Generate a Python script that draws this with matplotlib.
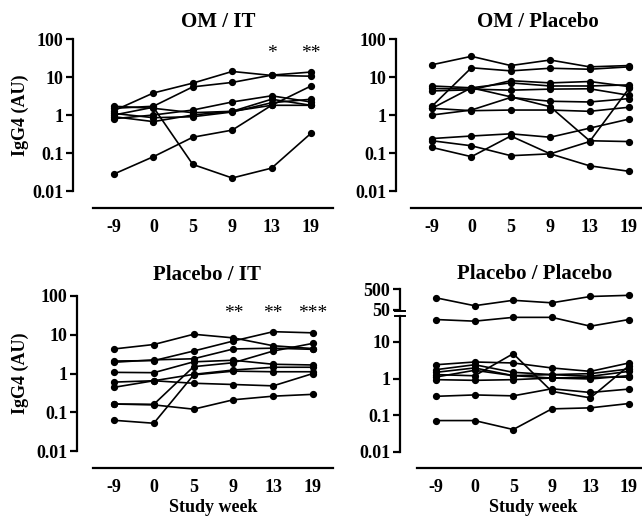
"""IgG4 over study weeks, four treatment groups (OM/IT, OM/Placebo, Placebo/IT, Placebo/Placebo)."""

import math

import matplotlib

matplotlib.use("Agg")
import matplotlib.pyplot as plt  # noqa: E402
from matplotlib.lines import Line2D  # noqa: E402
from matplotlib.ticker import NullLocator  # noqa: E402

weeks = ["-9", "0", "5", "9", "13", "19"]

# one row per subject, values in AU at each study week
om_it = [
    [0.028, 0.08, 0.26, 0.40, 1.8, 5.8],
    [1.0, 1.6, 0.05, 0.022, 0.04, 0.33],
    [1.3, 3.8, 6.9, 14.0, 11.0, 10.5],
    [1.5, 1.7, 5.5, 7.2, 11.2, 13.5],
    [0.8, 1.0, 1.35, 2.2, 3.2, 2.2],
    [1.7, 1.5, 1.15, 1.25, 2.6, 1.8],
    [0.9, 0.67, 1.0, 1.25, 1.8, 1.8],
    [1.1, 0.85, 0.9, 1.2, 2.1, 2.6],
]

om_placebo = [
    [21.0, 35.0, 20.0, 28.0, 18.5, 20.0],
    [1.7, 17.5, 14.5, 17.0, 16.0, 18.5],
    [5.8, 5.2, 3.0, 1.65, 0.21, 0.2],
    [4.3, 4.6, 8.0, 7.0, 7.6, 5.6],
    [5.0, 4.8, 4.5, 4.8, 4.9, 3.3],
    [1.5, 5.2, 7.0, 5.8, 5.8, 6.2],
    [1.0, 1.35, 2.9, 2.3, 2.2, 2.7],
    [1.5, 1.3, 1.35, 1.35, 1.25, 1.6],
    [0.24, 0.28, 0.32, 0.26, 0.45, 0.78],
    [0.21, 0.155, 0.085, 0.095, 0.2, 5.0],
    [0.14, 0.08, 0.28, 0.095, 0.046, 0.033],
]

placebo_it = [
    [4.3, 5.6, 10.3, 8.3, 5.2, 4.4],
    [2.1, 2.15, 3.8, 6.9, 12.0, 11.2],
    [1.95, 2.25, 2.4, 4.3, 4.5, 4.2],
    [1.07, 1.05, 2.0, 2.2, 1.73, 1.66],
    [0.6, 0.65, 0.56, 0.52, 0.48, 1.0],
    [0.44, 0.65, 0.95, 1.23, 1.45, 1.45],
    [0.163, 0.16, 1.5, 1.9, 3.8, 6.0],
    [0.062, 0.052, 0.92, 1.15, 1.11, 1.11],
    [0.163, 0.155, 0.12, 0.21, 0.26, 0.29],
]

placebo_placebo = [
    [190.0, 80.0, 145.0, 110.0, 220.0, 250.0],
    [41.0, 37.0, 47.0, 47.0, 27.0, 41.0],
    [2.4, 2.85, 2.68, 1.96, 1.58, 2.68],
    [1.29, 1.2, 4.8, 0.45, 0.3, 2.26],
    [1.76, 2.4, 1.49, 1.29, 1.37, 1.84],
    [1.49, 1.96, 1.21, 1.29, 1.16, 1.58],
    [1.11, 1.69, 1.21, 1.04, 0.98, 1.21],
    [0.94, 0.9, 0.94, 1.04, 1.1, 1.1],
    [0.33, 0.36, 0.34, 0.53, 0.42, 0.52],
    [0.072, 0.072, 0.041, 0.15, 0.16, 0.21],
]

om_it_stars = ["", "", "", "", "*", "**"]
placebo_it_stars = ["", "", "", "**", "**", "***"]

yticks = [0.01, 0.1, 1, 10, 100]
ytick_labels = ["0.01", "0.1", "1", "10", "100"]

W, H = 642, 517

plt.rcParams["font.family"] = "serif"
plt.rcParams["font.serif"] = ["Liberation Serif", "DejaVu Serif"]
plt.rcParams["font.weight"] = "bold"


def _axes(fig, box, xpx, ylo, yhi, xstart):
    """box=(left, right, top, bottom) px; xpx=(px of first tick, px of last tick);
    ylo/yhi=(value, px) anchors; xstart = px where the x axis line begins."""
    left, right, top, bottom = box
    ax = fig.add_axes([left / W, 1 - bottom / H, (right - left) / W, (bottom - top) / H])
    step = (xpx[1] - xpx[0]) / (len(weeks) - 1)
    ax.set_xlim((left - xpx[0]) / step, (right - xpx[0]) / step)
    (v0, p0), (v1, p1) = ylo, yhi
    dec = (p0 - p1) / (math.log10(v1) - math.log10(v0))
    ax.set_yscale("log")
    ax.set_ylim(10 ** (math.log10(v0) - (bottom - p0) / dec), 10 ** (math.log10(v1) + (p1 - top) / dec))
    for s in ["top", "right"]:
        ax.spines[s].set_visible(False)
    for s in ["left", "bottom"]:
        ax.spines[s].set_linewidth(1.6)
    ax.spines["left"].set_bounds(v0, v1)
    ax.spines["bottom"].set_bounds((xstart - xpx[0]) / step, (right - xpx[0]) / step)
    ax.set_xticks(range(len(weeks)), weeks)
    ax.tick_params(axis="x", length=0, pad=8, labelsize=13)
    ax.tick_params(axis="y", length=5, width=1.6, pad=2, labelsize=13)
    ax.yaxis.set_minor_locator(NullLocator())
    ax.patch.set_visible(False)
    return ax


def _lines(ax, rows):
    for row in rows:
        ax.plot(range(len(weeks)), row, color="black", lw=1.2, marker="o", ms=4.2, clip_on=False)


def _stars(ax, stars, yval):
    for i, s in enumerate(stars):
        if s:
            ax.text(i, yval, s, ha="center", va="center", fontsize=14, fontweight="normal", clip_on=False)


fig = plt.figure(figsize=(W / 100, H / 100), dpi=100)

# OM / IT
ax1 = _axes(fig, (73, 333, 39, 208), (114, 311), (0.01, 191), (100, 39), 93)
ax1.set_yticks(yticks, ytick_labels)
_lines(ax1, om_it)
_stars(ax1, om_it_stars, 42)

# OM / Placebo
ax2 = _axes(fig, (396, 642, 39, 208), (432, 629), (0.01, 191), (100, 39), 411)
ax2.set_yticks(yticks, ytick_labels)
_lines(ax2, om_placebo)

# Placebo / IT
ax3 = _axes(fig, (77, 333, 296, 468), (114, 313), (0.01, 451), (100, 296), 93)
ax3.set_yticks(yticks, ytick_labels)
_lines(ax3, placebo_it)
_stars(ax3, placebo_it_stars, 36)

# Placebo / Placebo, broken y axis
hi_rows = [r for r in placebo_placebo if min(r) > 55]
lo_rows = [r for r in placebo_placebo if min(r) <= 55]
ax4 = _axes(fig, (400, 642, 316, 468), (436, 629), (0.01, 452), (10, 342), 417)
ax4.spines["left"].set_bounds(0.01, ax4.get_ylim()[1])
ax4.set_yticks(yticks[:4], ytick_labels[:4])
_lines(ax4, lo_rows)

ax4u = fig.add_axes([400 / W, 1 - 310 / H, (642 - 400) / W, (310 - 289) / H], sharex=ax4)
ax4u.set_yscale("log")
ax4u.set_ylim(50, 500)
for s in ["top", "right", "bottom"]:
    ax4u.spines[s].set_visible(False)
ax4u.spines["left"].set_linewidth(1.6)
ax4u.set_yticks([50, 500], ["50", "500"])
ax4u.yaxis.set_minor_locator(NullLocator())
ax4u.tick_params(axis="y", length=5, width=1.6, pad=2, labelsize=13)
ax4u.tick_params(axis="x", length=0, labelbottom=False)
ax4u.patch.set_visible(False)
_lines(ax4u, hi_rows)

# break marks on the y axis
for yb in (311, 316):
    fig.add_artist(Line2D([395 / W, 405 / W], [1 - yb / H, 1 - yb / H], color="black", lw=1.4))

# titles and axis labels
for x, y, t in [(218, 22, "OM / IT"), (538, 22, "OM / Placebo"),
                (207, 275, "Placebo / IT"), (535, 274, "Placebo / Placebo")]:
    fig.text(x / W, 1 - y / H, t, ha="center", va="center", fontsize=15)
for y in (115, 373):
    fig.text(20 / W, 1 - y / H, "IgG4 (AU)", rotation=90, ha="center", va="center", fontsize=13)
for x in (213, 533):
    fig.text(x / W, 1 - 508 / H, "Study week", ha="center", va="center", fontsize=13)

fig.savefig("out.png", dpi=100)
plt.close(fig)
